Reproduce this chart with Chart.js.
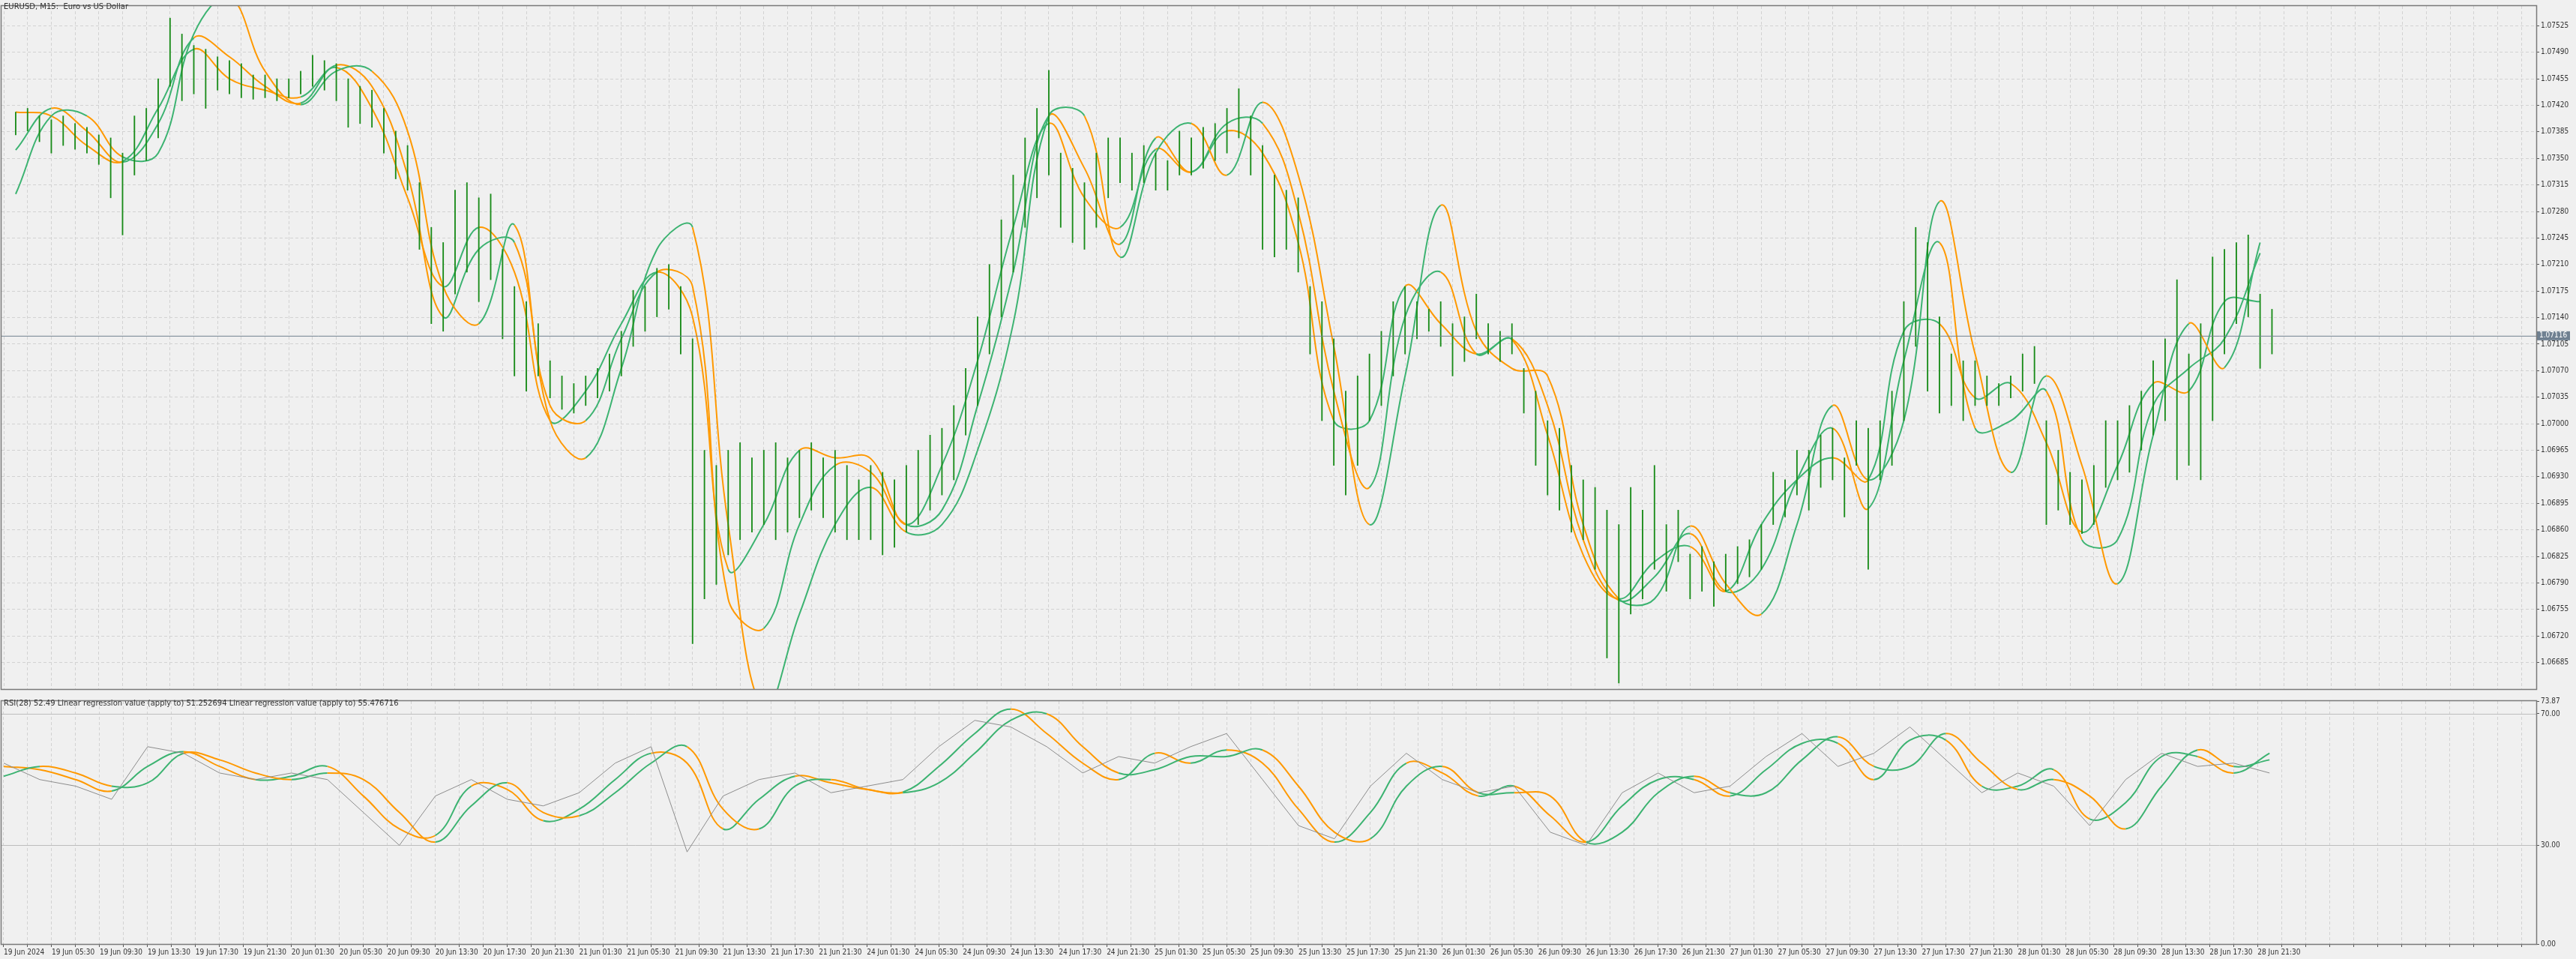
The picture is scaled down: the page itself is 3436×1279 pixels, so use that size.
<!DOCTYPE html>
<html><head><meta charset="utf-8">
<script src="https://cdn.jsdelivr.net/npm/chart.js@4.4.1/dist/chart.umd.min.js"></script>
<style>
html,body{margin:0;padding:0;background:#f0f0f0;overflow:hidden;}
#wrap{position:relative;width:3436px;height:1279px;background:#f0f0f0;}
canvas{position:absolute;left:0;}
.t{position:absolute;font-family:"DejaVu Sans",sans-serif;font-size:10px;color:#333;white-space:pre;}
</style></head><body>
<div id="wrap">
<canvas id="main" width="3436" height="927" style="top:0"></canvas>
<canvas id="rsi" width="3436" height="352" style="top:927px"></canvas>
<div class="t" style="left:5px;top:3px">EURUSD, M15:  Euro vs US Dollar</div>
<div class="t" style="left:5px;top:932px">RSI(28) 52.49 Linear regression value (apply to) 51.252694 Linear regression value (apply to) 55.476716</div>
</div>
<script>
// hourly price bars (high / low)
const highs=[1.07411,1.07416,1.07406,1.07401,1.07406,1.07396,1.07391,1.07381,1.07377,1.07357,
1.07406,1.07416,1.07455,1.07535,1.07514,1.07499,1.07494,1.07484,1.07479,1.07475,
1.07460,1.07460,1.07455,1.07455,1.07465,1.07486,1.07479,1.07475,1.07455,1.07445,
1.07440,1.07416,1.07386,1.07367,1.07318,1.07259,1.07239,1.07308,1.07318,1.07298,
1.07303,1.07230,1.07181,1.07161,1.07132,1.07083,1.07063,1.07053,1.07063,1.07073,
1.07092,1.07122,1.07176,1.07181,1.07205,1.07210,1.07181,1.07112,1.06965,1.06945,
1.06965,1.06975,1.06955,1.06965,1.06975,1.06955,1.06965,1.06975,1.06955,1.06965,
1.06945,1.06926,1.06945,1.06936,1.06926,1.06945,1.06965,1.06985,1.06994,1.07024,
1.07073,1.07141,1.07210,1.07269,1.07328,1.07377,1.07416,1.07466,1.07357,1.07337,
1.07318,1.07357,1.07377,1.07377,1.07357,1.07367,1.07357,1.07347,1.07386,1.07377,
1.07391,1.07396,1.07416,1.07442,1.07406,1.07367,1.07328,1.07308,1.07298,1.07181,
1.07161,1.07112,1.07043,1.07063,1.07092,1.07122,1.07161,1.07181,1.07161,1.07151,
1.07161,1.07132,1.07141,1.07171,1.07132,1.07122,1.07132,1.07073,1.07043,1.07004,
1.06994,1.06945,1.06926,1.06916,1.06886,1.06867,1.06916,1.06886,1.06945,1.06867,
1.06886,1.06828,1.06838,1.06818,1.06828,1.06838,1.06847,1.06867,1.06936,1.06926,
1.06965,1.06965,1.06985,1.06994,1.06955,1.07004,1.06994,1.07004,1.07043,1.07161,
1.07259,1.07239,1.07141,1.07092,1.07083,1.07083,1.07063,1.07053,1.07063,1.07092,
1.07102,1.07004,1.06965,1.06936,1.06926,1.06945,1.07004,1.07004,1.07024,1.07043,
1.07083,1.07112,1.07190,1.07092,1.07132,1.07220,1.07230,1.07239,1.07249,1.07171,
1.07151];
const lows=[1.07381,1.07386,1.07372,1.07357,1.07367,1.07362,1.07357,1.07342,1.07298,1.07249,
1.07328,1.07347,1.07377,1.07445,1.07426,1.07435,1.07416,1.07440,1.07435,1.07430,
1.07428,1.07430,1.07426,1.07430,1.07435,1.07445,1.07440,1.07426,1.07391,1.07396,
1.07391,1.07357,1.07323,1.07308,1.07230,1.07132,1.07122,1.07171,1.07200,1.07161,
1.07190,1.07112,1.07063,1.07043,1.07063,1.07034,1.07019,1.07014,1.07024,1.07034,
1.07043,1.07063,1.07102,1.07122,1.07141,1.07151,1.07092,1.06710,1.06769,1.06788,
1.06827,1.06847,1.06857,1.06867,1.06847,1.06857,1.06876,1.06886,1.06876,1.06857,
1.06847,1.06847,1.06847,1.06827,1.06837,1.06857,1.06867,1.06886,1.06906,1.06926,
1.06985,1.07024,1.07092,1.07141,1.07200,1.07259,1.07298,1.07328,1.07259,1.07239,
1.07230,1.07259,1.07298,1.07318,1.07308,1.07318,1.07308,1.07308,1.07328,1.07328,
1.07337,1.07347,1.07357,1.07377,1.07328,1.07230,1.07220,1.07230,1.07200,1.07092,
1.07004,1.06945,1.06906,1.06945,1.07004,1.07024,1.07063,1.07092,1.07112,1.07122,
1.07102,1.07063,1.07082,1.07112,1.07092,1.07082,1.07092,1.07014,1.06945,1.06906,
1.06886,1.06857,1.06847,1.06808,1.06691,1.06658,1.06749,1.06769,1.06808,1.06779,
1.06818,1.06769,1.06779,1.06759,1.06779,1.06789,1.06798,1.06808,1.06867,1.06877,
1.06906,1.06886,1.06916,1.06926,1.06877,1.06945,1.06808,1.06926,1.06945,1.07004,
1.07102,1.07043,1.07014,1.07024,1.07004,1.07024,1.07024,1.07024,1.07034,1.07043,
1.07053,1.06867,1.06886,1.06867,1.06855,1.06867,1.06916,1.06926,1.06936,1.06965,
1.06985,1.07004,1.06926,1.06945,1.06926,1.07004,1.07092,1.07132,1.07141,1.07073,
1.07092];
// smoothing lines, sampled every 3 hours
const maFast=[1.07411,1.07406,1.07367,1.07346,1.07416,1.07494,1.07455,1.07440,1.07431,1.07470,
1.07416,1.07298,1.07181,1.07259,1.07200,1.07004,1.07043,1.07132,1.07200,1.07141,
1.06808,1.06867,1.06965,1.06955,1.06954,1.06867,1.06945,1.07083,1.07259,1.07396,
1.07298,1.07259,1.07362,1.07332,1.07386,1.07357,1.07239,1.07004,1.07004,1.07181,
1.07132,1.07092,1.07111,1.06985,1.06827,1.06769,1.06818,1.06838,1.06779,1.06867,
1.06926,1.06955,1.06926,1.07122,1.07132,1.07034,1.07053,1.06975,1.06857,1.06945,
1.07053,1.07043,1.07161,1.07161];
const maMid=[1.07361,1.07416,1.07386,1.07345,1.07396,1.07509,1.07484,1.07445,1.07423,1.07473,
1.07445,1.07328,1.07141,1.07230,1.07239,1.07024,1.07004,1.07112,1.07200,1.07181,
1.06769,1.06730,1.06867,1.06945,1.06936,1.06867,1.06886,1.07024,1.07200,1.07406,
1.07337,1.07237,1.07377,1.07332,1.07396,1.07396,1.07279,1.07043,1.06916,1.07141,
1.07200,1.07092,1.07112,1.07024,1.06847,1.06767,1.06798,1.06855,1.06779,1.06808,
1.06926,1.06994,1.06888,1.07083,1.07239,1.06994,1.07004,1.07043,1.06847,1.06847,
1.07024,1.07073,1.07112,1.07225];
const maSlow=[1.07303,1.07406,1.07406,1.07352,1.07357,1.07514,1.07563,1.07465,1.07421,1.07465,
1.07465,1.07386,1.07181,1.07132,1.07262,1.07004,1.06955,1.07073,1.07230,1.07259,
1.06867,1.06622,1.06749,1.06867,1.06916,1.06857,1.06867,1.06965,1.07132,1.07406,
1.07406,1.07220,1.07357,1.07396,1.07328,1.07424,1.07328,1.07102,1.06867,1.07063,
1.07288,1.07122,1.07073,1.07063,1.06867,1.06769,1.06769,1.06865,1.06789,1.06749,
1.06867,1.07024,1.06926,1.07004,1.07293,1.07092,1.06936,1.07063,1.06945,1.06789,
1.06985,1.07132,1.07074,1.07239];
// RSI pane, sampled every 3 hours
const rsiVals=[55,50,48,44,60,58,52,50,52,50,40,30,45,50,44,42,46,55,60,28,45,50,52,46,48,50,60,68,66,60,52,57,55,60,64,50,36,32,48,58,50,46,48,34,30,46,52,46,48,57,64,54,58,66,56,46,52,48,36,50,58,54,55,52];
const lrFast=[54,53,50,46.5,54,58.5,54,50,51,54,45,35,33,48,47,37.5,41,50,58,55,35,44,51,49,47,46.2,54,64,71.4,64,55,50,58,55,59,55,41,31,40,55,52,45,48,39,31,42,50,50,45,53,61,61,50,62,62,48,48,53,38,43,57,57,52,58];
const lrSlow=[51,54,52,48,49,58,56,52,50,52,50,40,31,42,49,40,39,46,55,60,41,35,48,50,47,46,49,58,68,70,60,52,53,57,57,59,48,34,32,48,54,46,46,45,31,34,46,51,46,46,56,63,54,54,64,55,47,50,45,35,48,59,54,56];
const priceTicks=[1.06685,1.06720,1.06755,1.06790,1.06825,1.06860,1.06895,1.06930,1.06965,1.07000,1.07035,1.07070,1.07105,1.07140,1.07175,1.07210,1.07245,1.07280,1.07315,1.07350,1.07385,1.07420,1.07455,1.07490,1.07525];
const rsiTicks=[0,30,70,73.87];
const rsiLevels=[70,30];
const lastPrice=1.07116;
const timeLabels=["19 Jun 2024","19 Jun 05:30","19 Jun 09:30","19 Jun 13:30","19 Jun 17:30","19 Jun 21:30",
"20 Jun 01:30","20 Jun 05:30","20 Jun 09:30","20 Jun 13:30","20 Jun 17:30","20 Jun 21:30",
"21 Jun 01:30","21 Jun 05:30","21 Jun 09:30","21 Jun 13:30","21 Jun 17:30","21 Jun 21:30",
"24 Jun 01:30","24 Jun 05:30","24 Jun 09:30","24 Jun 13:30","24 Jun 17:30","24 Jun 21:30",
"25 Jun 01:30","25 Jun 05:30","25 Jun 09:30","25 Jun 13:30","25 Jun 17:30","25 Jun 21:30",
"26 Jun 01:30","26 Jun 05:30","26 Jun 09:30","26 Jun 13:30","26 Jun 17:30","26 Jun 21:30",
"27 Jun 01:30","27 Jun 05:30","27 Jun 09:30","27 Jun 13:30","27 Jun 17:30","27 Jun 21:30",
"28 Jun 01:30","28 Jun 05:30","28 Jun 09:30","28 Jun 13:30","28 Jun 17:30","28 Jun 21:30"];

const GREEN='#3cb371', ORANGE='#ff9900', BAR='#1a8c1a';
const FONT={family:'"DejaVu Sans Condensed","DejaVu Sans",sans-serif',size:10};
const XMIN=-0.1875, XMAX=211.25;
const slope=(ctx)=>ctx.p1.parsed.y>=ctx.p0.parsed.y?GREEN:ORANGE;
const lineDs=(arr,w)=>({type:'line',data:arr.map((v,k)=>({x:3*k,y:v})),borderWidth:w,pointRadius:0,tension:0.4,
  borderColor:GREEN,segment:{borderColor:slope},fill:false});
const gridTicksX=(s)=>{s.ticks=[];for(let h=0;h<=210;h+=2)s.ticks.push({value:h});};
const frame={id:'frame',afterDraw(c){const a=c.chartArea,x=c.ctx;x.save();x.strokeStyle='#7a7a7a';x.lineWidth=1.5;
  x.strokeRect(a.left-0.5,a.top-0.5,a.right-a.left+1,a.bottom-a.top+1);x.restore();}};
const priceLine={id:'pl',afterDatasetsDraw(c){const y=c.scales.y.getPixelForValue(lastPrice),a=c.chartArea,x=c.ctx;x.save();
  x.strokeStyle='#70808e';x.lineWidth=1;x.beginPath();x.moveTo(a.left,y+0.5);x.lineTo(a.right,y+0.5);x.stroke();
  x.fillStyle='#6f8091';x.fillRect(a.right+1,y-6,44,12);x.fillStyle='#fff';x.font='10px "DejaVu Sans Condensed","DejaVu Sans"';
  x.textBaseline='middle';x.fillText(lastPrice.toFixed(5),a.right+4,y);x.restore();}};
const levels={id:'lv',beforeDatasetsDraw(c){const a=c.chartArea,x=c.ctx;x.save();x.strokeStyle='#bdbdbd';x.lineWidth=1;
  rsiLevels.forEach(v=>{const y=Math.round(c.scales.y.getPixelForValue(v))+0.5;x.beginPath();x.moveTo(a.left,y);x.lineTo(a.right,y);x.stroke();});x.restore();}};

new Chart(document.getElementById('main'),{
  type:'bar',
  data:{datasets:[
    {type:'bar',data:highs.map((h,i)=>({x:i,y:[lows[i],h]})),backgroundColor:BAR,barThickness:1.2,borderWidth:0},
    lineDs(maSlow,2),lineDs(maMid,2),lineDs(maFast,2)
  ]},
  options:{responsive:false,animation:false,events:[],
    layout:{padding:{left:2,top:2,right:0,bottom:2}},
    plugins:{legend:{display:false},tooltip:{enabled:false}},
    scales:{
      x:{type:'linear',min:XMIN,max:XMAX,afterBuildTicks:gridTicksX,ticks:{display:false},
         grid:{color:'#d2d2d2',drawTicks:false},border:{display:false,dash:[4,3]},afterFit:s=>{s.height=0;}},
      y:{position:'right',min:1.06650,max:1.07551,
         afterBuildTicks:s=>{s.ticks=priceTicks.map(v=>({value:v}));},
         ticks:{callback:v=>v.toFixed(5),font:FONT,color:'#333',padding:2,autoSkip:false},
         grid:{color:'#d2d2d2',tickLength:4,tickColor:'#555'},border:{color:'#7a7a7a',dash:[4,3]},
         afterFit:s=>{s.width=53;}}
    }},
  plugins:[frame,priceLine]
});

new Chart(document.getElementById('rsi'),{
  type:'line',
  data:{datasets:[
    {data:rsiVals.map((v,k)=>({x:3*k,y:v})),borderColor:'#8c8c8c',borderWidth:1,pointRadius:0,tension:0},
    lineDs(lrSlow,2),lineDs(lrFast,2)
  ]},
  options:{responsive:false,animation:false,events:[],
    layout:{padding:{left:2,top:1,right:0,bottom:0}},
    plugins:{legend:{display:false},tooltip:{enabled:false}},
    scales:{
      x:{type:'linear',min:XMIN,max:XMAX,afterBuildTicks:gridTicksX,
         ticks:{autoSkip:false,maxRotation:0,font:FONT,color:'#333',align:'start',padding:1,
           callback:v=>(v%4===0&&timeLabels[v/4])?timeLabels[v/4]:''},
         grid:{color:'#d2d2d2',tickLength:4,tickColor:'#555'},border:{color:'#7a7a7a',dash:[4,3]},
         afterFit:s=>{s.height=20;}},
      y:{position:'right',min:0,max:73.87,
         afterBuildTicks:s=>{s.ticks=rsiTicks.map(v=>({value:v}));},
         ticks:{callback:v=>v.toFixed(2),font:FONT,color:'#333',padding:2,autoSkip:false},
         grid:{drawOnChartArea:false,tickLength:4,tickColor:'#555'},border:{color:'#7a7a7a'},
         afterFit:s=>{s.width=53;}}
    }},
  plugins:[frame,levels]
});
</script>
</body></html>
